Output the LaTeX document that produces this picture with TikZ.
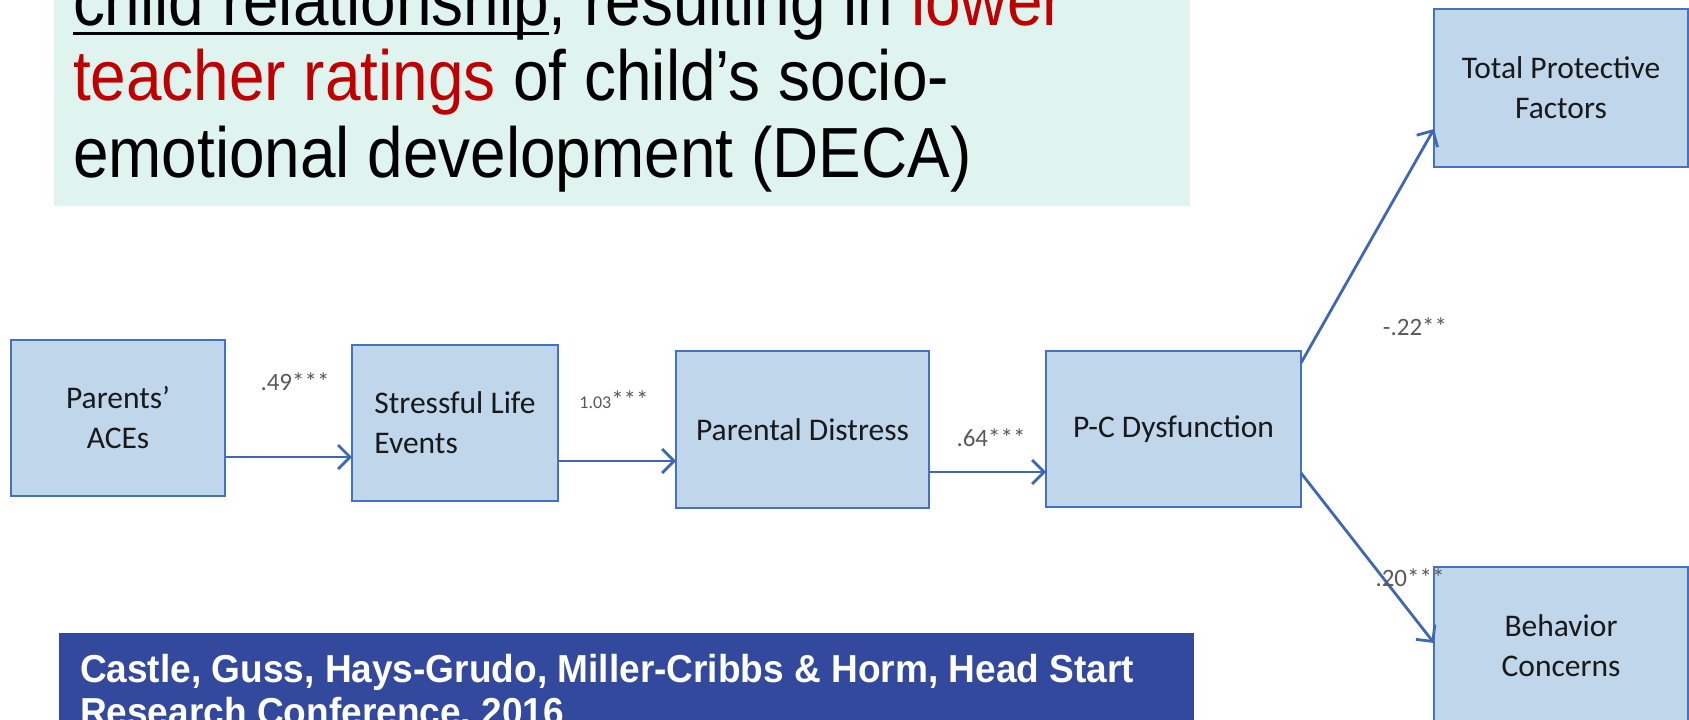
\documentclass[tikz,border=0pt]{standalone}
\usepackage{fontspec}
\setmainfont{Liberation Sans}
\newfontfamily\headfont[FakeStretch=0.9]{Liberation Sans}
\newfontfamily\footfont[FakeStretch=0.95]{Liberation Sans}
\newfontfamily\boxfont{Carlito}
\usetikzlibrary{arrows.meta}

\definecolor{mint}{HTML}{DFF4EF}
\definecolor{accent}{HTML}{C00000}
\definecolor{boxfill}{HTML}{C0D6EA}
\definecolor{boxline}{HTML}{4572BF}
\definecolor{arrowblue}{HTML}{3E67B4}
\definecolor{footblue}{HTML}{32499E}
\definecolor{coefgray}{HTML}{595959}

\tikzset{
  headtxt/.style={anchor=base west, inner sep=0pt, outer sep=0pt,
    font=\headfont\fontsize{71}{76}\selectfont},
  foottxt/.style={anchor=base west, inner sep=0pt, outer sep=0pt, text=white,
    font=\footfont\bfseries\fontsize{39}{43}\selectfont},
  varbox/.style={draw=boxline, fill=boxfill, line width=2.4pt,
    inner sep=0pt, outer sep=0pt, align=center,
    font=\boxfont\fontsize{31.5}{40}\selectfont, text=black!90},
  coef/.style={inner sep=0pt, text=coefgray,
    font=\boxfont\fontsize{25}{25}\selectfont},
  path arrow/.style={draw=arrowblue, line width=2.8pt,
    -{Straight Barb[length=12pt,width=24pt,line width=2.8pt]}},
}

\begin{document}
\begin{tikzpicture}[x=1pt,y=-1pt]
\useasboundingbox (0,0) rectangle (1689,720);

% heading panel
\fill[mint] (54,-10) rectangle (1190,206);
\node[headtxt] (h1a) at (73,25) {child relationship};
\node[headtxt] (h1b) at (h1a.base east) {, resulting in \textcolor{accent}{lower}};
\draw[line width=3pt] ([yshift=-8pt]h1a.base west) -- ([yshift=-8pt]h1a.base east);
\node[headtxt] (h2) at (73,100) {\textcolor{accent}{teacher ratings} of child’s socio-};
\node[headtxt] (h3) at (73,177) {emotional development (DECA)};

% path model
\node[varbox, minimum width=214pt, minimum height=156pt] (aces) at (118,418)
  {Parents’\\ACEs};
\node[varbox, minimum width=206pt, minimum height=156pt, align=left] (sle) at (455,423)
  {Stressful Life\\Events};
\node[varbox, minimum width=253pt, minimum height=157pt] (pd) at (802.5,429.5)
  {Parental Distress};
\node[varbox, minimum width=255pt, minimum height=156pt] (pcd) at (1173.5,429)
  {P-C Dysfunction};
\node[varbox, minimum width=254pt, minimum height=158pt] (tpf) at (1561,88)
  {Total Protective\\Factors};
\node[varbox, minimum width=254pt, minimum height=158pt] (bc) at (1561,646)
  {Behavior\\Concerns};

\draw[path arrow] (aces.east |- 0,457) -- (sle.west |- 0,457);
\draw[path arrow] (sle.east |- 0,461) -- (pd.west |- 0,461);
\draw[path arrow] (pd.east |- 0,472) -- (pcd.west |- 0,472);
\draw[path arrow] (pcd.east |- 0,363) -- (tpf.west |- 0,129);
\draw[path arrow] (pcd.east |- 0,473) -- (bc.west |- 0,643);

% path coefficients
\node[coef] (c1) at (295,382) {.49***};
\node[coef] (c2) at (614,400) {{\fontsize{18}{18}\selectfont 1.03}***};
\node[coef] (c3) at (991,438) {.64***};
\node[coef] (c4) at (1415,327) {-.22**};
\node[coef] (c5) at (1410,578) {.20***};

% citation banner
\fill[footblue] (59,633) rectangle (1194,730);
\node[foottxt] (f1) at (80,682) {Castle, Guss, Hays-Grudo, Miller-Cribbs \& Horm, Head Start};
\node[foottxt] (f2) at (80,725) {Research Conference, 2016};
\end{tikzpicture}
\end{document}
